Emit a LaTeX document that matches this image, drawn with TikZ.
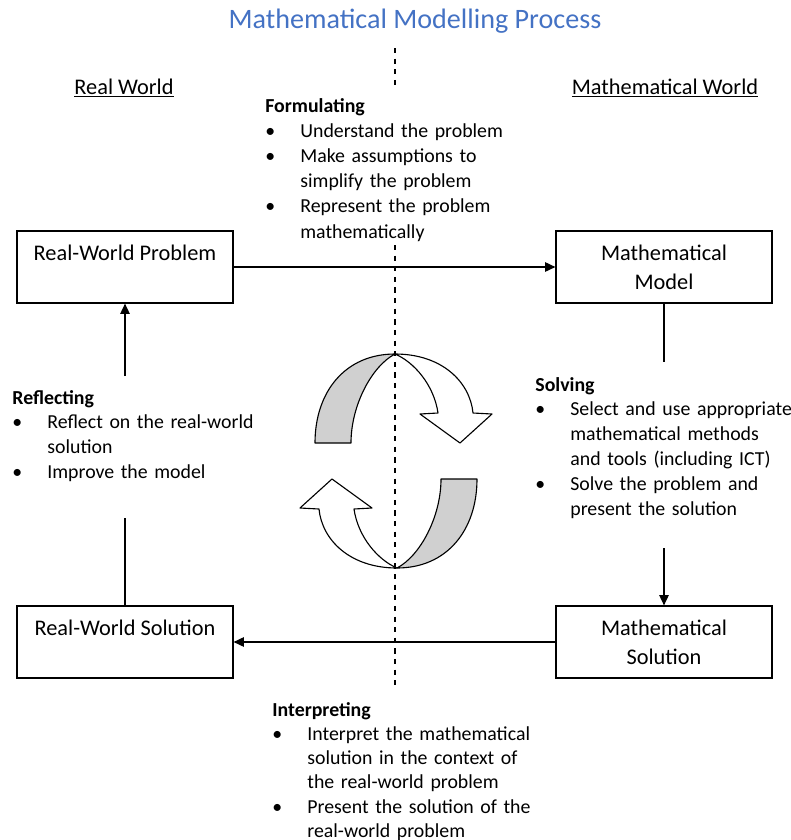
\documentclass[tikz,border=0pt]{standalone}
\usepackage{fontspec}
\setmainfont{Carlito}
\usetikzlibrary{arrows.meta}
\definecolor{titleblue}{HTML}{4472C4}
\definecolor{bandgray}{HTML}{D0D0D0}
\newcommand{\bul}[1]{\par\hangindent=18.8pt\hangafter=1\noindent\makebox[18.8pt][l]{\textbullet}#1\par}

\begin{document}
\begin{tikzpicture}[x=0.537pt, y=-0.537pt,
    stage/.style={draw, line width=0.6pt, minimum width=116pt, minimum height=38.7pt, inner sep=0pt, align=center, font=\fontsize{12pt}{15.6pt}\selectfont},
    notes/.style={anchor=base west, inner sep=0pt, text width=160pt, align=left, font=\fontsize{10.65pt}{13.35pt}\selectfont},
    world/.style={anchor=base, inner sep=0pt, font=\fontsize{12pt}{14.6pt}\selectfont},
    link/.style={line width=0.8pt},
    flow/.style={link, -{Triangle[length=5.5pt, width=5pt]}},
    band/.style={line width=0.6pt, line join=round}]
  \useasboundingbox (0,0) rectangle (791,840);

  % title and the two worlds
  \node[anchor=base, inner sep=0pt, text=titleblue, font=\fontsize{15.1pt}{18pt}\selectfont] (title) at (415,28) {Mathematical Modelling Process};
  \node[world] (realw) at (124,94) {\underline{Real World}};
  \node[world] (mathw) at (665,94) {\underline{Mathematical World}};

  % the four stages
  \node[stage] (rwp) at (125,267) {Real-World Problem\\\mbox{}};
  \node[stage] (mm) at (664,267) {Mathematical\\Model};
  \node[stage] (ms) at (664,642) {Mathematical\\Solution};
  \node[stage] (rws) at (125,642) {Real-World Solution\\\mbox{}};

  \coordinate (solvetop) at (664,362);
  \coordinate (solvebot) at (664,548);
  \coordinate (reflbot) at (125,518);
  \coordinate (refltop) at (125,376);

  \draw[flow] (rwp.east) -- (mm.west);
  \draw[link] (mm.south) -- (solvetop);
  \draw[flow] (solvebot) -- (ms.north);
  \draw[flow] (ms.west) -- (rws.east);
  \draw[link] (rws.north) -- (reflbot);
  \draw[flow] (refltop) -- (rwp.south);

  % what happens at each step
  \node[notes, font=\fontsize{10.65pt}{13.55pt}\selectfont] (formul) at (265,112) {\textbf{Formulating}
    \bul{Understand the problem}
    \bul{Make assumptions to\newline simplify the problem}
    \bul{Represent the problem\newline mathematically}};
  \node[notes] (solv) at (535,391) {\textbf{Solving}
    \bul{Select and use appropriate\newline mathematical methods\newline and tools (including ICT)}
    \bul{Solve the problem and\newline present the solution}};
  \node[notes] (refl) at (12,404) {\textbf{Reflecting}
    \bul{Reflect on the real-world\newline solution}
    \bul{Improve the model}};
  \node[notes, font=\fontsize{10.65pt}{13.05pt}\selectfont] (interp) at (272,716) {\textbf{Interpreting}
    \bul{Interpret the mathematical\newline solution in the context of\newline the real-world problem}
    \bul{Present the solution of the\newline real-world problem}};

  % cycle arrows in the middle
  \foreach \ang in {0,180} {
    \begin{scope}[rotate around={\ang:(396,461)}]
      \filldraw[band, fill=bandgray] (315,443) .. controls (315,392) and (345,354) .. (395,354)
        .. controls (372,366) and (351,405) .. (351,443) -- cycle;
      \filldraw[band, fill=white] (395,354) .. controls (442,354) and (470,382) .. (473,413)
        -- (492,414) -- (460,443) -- (420,414) -- (438,413)
        .. controls (434,385) and (414,362) .. (395,354) -- cycle;
    \end{scope}
  }

  % divider
  \coordinate (divA) at (395,48);
  \coordinate (divB) at (395,85);
  \coordinate (divC) at (395,245);
  \coordinate (divD) at (395,685);
  \draw[line width=0.55pt, dash pattern=on 2.8pt off 2.9pt] (divA) -- (divB) (divC) -- (divD);
\end{tikzpicture}
\end{document}
